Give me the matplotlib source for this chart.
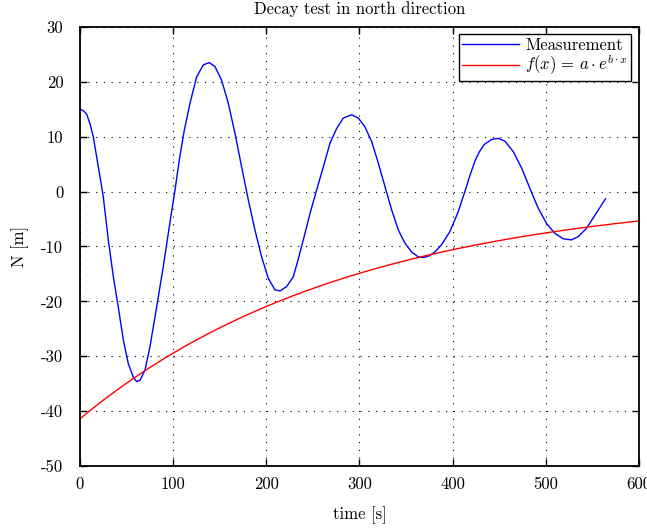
import numpy as np
import matplotlib
matplotlib.use("Agg")
import matplotlib.pyplot as plt

plt.rcParams['font.family'] = 'serif'
plt.rcParams['font.serif'] = ['cmr10']
plt.rcParams['mathtext.fontset'] = 'cm'
plt.rcParams['axes.unicode_minus'] = False
plt.rcParams['axes.formatter.use_mathtext'] = False

# measured north displacement during the decay test
time_s = [0.3, 4.0, 7.2, 10.7, 14.3, 19.7, 25.0, 30.4, 35.8, 41.1, 46.5, 51.8, 57.2,
          60.8, 64.4, 69.8, 75.1, 82.3, 89.4, 94.8, 102.0, 107.0, 112.0, 118.1, 125.2,
          132.4, 138.8, 144.9, 152.0, 159.2, 166.4, 173.5, 180.7, 187.8, 195.0,
          202.1, 209.3, 214.7, 221.8, 229.0, 233.5, 239.7, 246.9, 254.0, 261.2,
          268.3, 275.5, 282.6, 291.6, 298.8, 305.9, 313.1, 320.2, 327.4, 334.5,
          341.7, 348.8, 356.0, 363.1, 369.0, 375.0, 381.0, 388.0, 397.0, 405.9,
          413.1, 418.5, 424.0, 428.5, 434.0, 441.8, 448.9, 456.1, 465.0, 474.0, 482.9,
          491.8, 500.8, 509.7, 518.7, 527.6, 534.8, 543.7, 552.7, 564.1]
north_m = [15.0, 14.7, 14.1, 12.4, 10.0, 4.5, -0.9, -8.8, -15.5, -21.0, -27.0, -31.3, -33.8,
           -34.6, -34.4, -32.5, -28.3, -21.0, -13.7, -7.6, 0.3, 6.2, 11.2, 16.1, 20.9,
           23.1, 23.5, 22.8, 20.3, 16.1, 10.6, 4.5, -1.5, -7.0, -11.9,
           -15.8, -17.9, -18.1, -17.3, -15.5, -12.8, -8.8, -4.0, 0.3, 4.5,
           8.8, 11.5, 13.4, 14.0, 13.4, 11.8, 9.1, 5.2, 0.9, -3.3,
           -7.0, -9.4, -11.0, -11.9, -12.0, -11.7, -11.0, -9.7, -7.3, -3.7,
           0.0, 2.9, 5.6, 7.2, 8.6, 9.5, 9.7, 9.2, 7.3, 4.3, 0.6,
           -3.0, -5.8, -7.6, -8.6, -8.8, -8.2, -6.7, -4.3, -1.3]

# exponential envelope fit f(x) = a * exp(b * x)
fit_a = -41.4
fit_b = -0.00341
fit_x = np.linspace(0, 600, 300)
fit_y = fit_a * np.exp(fit_b * fit_x)

fig = plt.figure(figsize=(6.47, 5.31), dpi=100)
ax = fig.add_axes([0.1236, 0.1224, 0.864, 0.8268])

ax.plot(time_s, north_m, color='#0000ff', lw=1.0, label='Measurement')
ax.plot(fit_x, fit_y, color='#ff0000', lw=1.0, label=r'$f(x)\,=\,a \cdot e^{b \cdot x}$')

ax.set_xlim(0, 600)
ax.set_ylim(-50, 30)
ax.set_xticks(np.arange(0, 601, 100))
ax.set_yticks(np.arange(-50, 31, 10))
ax.tick_params(direction='in', top=True, right=True, length=5, width=1, labelsize=12)
ax.tick_params(axis='y', pad=12)
ax.tick_params(axis='x', pad=8)
for s in ax.spines.values():
    s.set_linewidth(1.3)

ax.grid(True, color='black', linestyle=(0, (1, 6)), linewidth=0.8)

ax.set_title('Decay test in north direction', fontsize=12, pad=9)
ax.set_xlabel('time [s]', fontsize=12, labelpad=10)
ax.set_ylabel('N [m]', fontsize=12, labelpad=9)

leg = ax.legend(loc='upper right', fontsize=12, frameon=True, fancybox=False,
                edgecolor='black', framealpha=1, handlelength=3.4,
                borderpad=0.2, labelspacing=0.0, handletextpad=0.4,
                borderaxespad=0.45)
leg.get_frame().set_linewidth(1.0)

fig.savefig('out.png', dpi=100)
